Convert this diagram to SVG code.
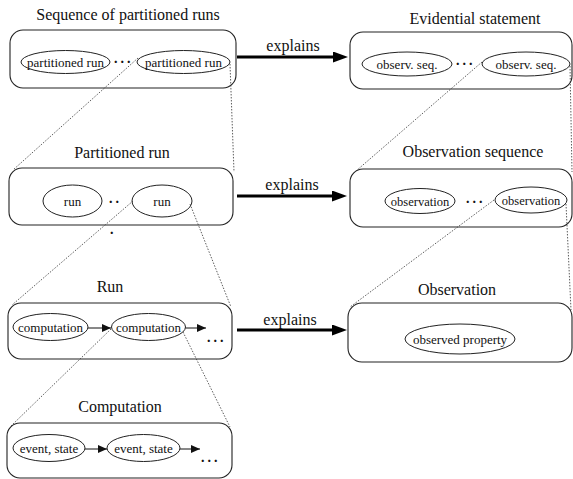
<svg xmlns="http://www.w3.org/2000/svg" width="573" height="479" viewBox="0 0 573 479" font-family="'Liberation Serif', 'DejaVu Serif', 'Times New Roman', serif">
<defs>
<style>
text{font-family:'Liberation Serif','DejaVu Serif','Times New Roman',serif;fill:#111}
.t{font-size:16px;text-anchor:middle}
.l{font-size:13px;text-anchor:middle}
.d{font-size:14px;font-weight:bold;letter-spacing:3px}
.box{fill:#fff;stroke:#222;stroke-width:1.1}
.el{fill:#fff;stroke:#222;stroke-width:1}
.dot{fill:none;stroke:#333;stroke-width:0.8;stroke-dasharray:1.5 1.5}
.big{fill:none;stroke:#000;stroke-width:3}
.sm{fill:none;stroke:#111;stroke-width:1}
</style>
<marker id="ab" markerUnits="userSpaceOnUse" markerWidth="15" markerHeight="11" refX="3" refY="5.5" orient="auto"><path d="M0,0 L15,5.5 L0,11 z" fill="#000"/></marker>
<marker id="as" markerUnits="userSpaceOnUse" markerWidth="9" markerHeight="8" refX="9" refY="4" orient="auto"><path d="M0,0 L9,4 L0,8 z" fill="#111"/></marker>
</defs>
<rect width="573" height="479" fill="#fff"/>

<g id="seq-partitioned-runs">
<text class="t" x="128" y="20">Sequence of partitioned runs</text>
<rect class="box" x="10" y="30" width="226" height="58" rx="13"/>
<ellipse class="el" cx="65.5" cy="62" rx="44.5" ry="11.5"/>
<text class="l" x="65.5" y="66.5">partitioned run</text>
<text class="d" x="114" y="63">...</text>
<ellipse class="el" cx="183.5" cy="62" rx="46.5" ry="11.5"/>
<text class="l" x="183.5" y="66.5">partitioned run</text>
</g>

<g id="evidential-statement">
<text class="t" x="475" y="24">Evidential statement</text>
<rect class="box" x="350" y="32" width="222" height="57" rx="13"/>
<ellipse class="el" cx="407" cy="64" rx="45" ry="12"/>
<text class="l" x="407" y="68.5">observ. seq.</text>
<text class="d" x="456" y="65">...</text>
<ellipse class="el" cx="526" cy="64" rx="44" ry="12"/>
<text class="l" x="526" y="68.5">observ. seq.</text>
</g>

<g id="partitioned-run">
<text class="t" x="122" y="158">Partitioned run</text>
<rect class="box" x="9" y="168" width="224" height="57" rx="13"/>
<ellipse class="el" cx="72.5" cy="201" rx="29.5" ry="16"/>
<text class="l" x="72.5" y="205.5">run</text>
<text class="d" x="109" y="203">..</text>
<ellipse class="el" cx="162" cy="201" rx="30" ry="16"/>
<text class="l" x="162" y="205.5">run</text>
<text class="d" x="110" y="234">.</text>
</g>

<g id="observation-sequence">
<text class="t" x="473" y="157">Observation sequence</text>
<rect class="box" x="350" y="169" width="222" height="58" rx="13"/>
<ellipse class="el" cx="420" cy="201" rx="35" ry="12.5"/>
<text class="l" x="420" y="205.5" style="font-size:12.5px">observation</text>
<text class="d" x="466" y="203">...</text>
<ellipse class="el" cx="531" cy="200" rx="36" ry="13"/>
<text class="l" x="531" y="204.5" style="font-size:12.5px">observation</text>
</g>

<g id="run">
<text class="t" x="110" y="292">Run</text>
<rect class="box" x="8" y="303" width="224" height="56" rx="13"/>
<ellipse class="el" cx="50.5" cy="327" rx="37.5" ry="13.5"/>
<text class="l" x="50.5" y="331.5">computation</text>
<ellipse class="el" cx="148.5" cy="327" rx="37" ry="13.5"/>
<text class="l" x="148.5" y="331.5">computation</text>
<text class="d" x="207" y="342">...</text>
</g>

<g id="observation">
<text class="t" x="457" y="295">Observation</text>
<rect class="box" x="348" y="303" width="224" height="59" rx="14"/>
<ellipse class="el" cx="460" cy="339" rx="55" ry="15"/>
<text class="l" x="460" y="343.5">observed property</text>
</g>

<g id="computation">
<text class="t" x="120" y="412">Computation</text>
<rect class="box" x="7" y="423" width="225" height="55" rx="13"/>
<ellipse class="el" cx="49" cy="448" rx="36" ry="13.5"/>
<text class="l" x="49" y="452.5">event, state</text>
<ellipse class="el" cx="143.5" cy="448" rx="36.5" ry="13.5"/>
<text class="l" x="143.5" y="452.5">event, state</text>
<text class="d" x="201" y="462">...</text>
</g>

<g id="connectors">
<line class="big" x1="237" y1="57" x2="336" y2="57" marker-end="url(#ab)"/>
<text class="t" x="293" y="51">explains</text>
<line class="big" x1="237" y1="196" x2="335" y2="196" marker-end="url(#ab)"/>
<text class="t" x="292" y="190">explains</text>
<line class="big" x1="237" y1="330" x2="335" y2="330" marker-end="url(#ab)"/>
<text class="t" x="290" y="325">explains</text>

<line class="sm" x1="88" y1="328" x2="111" y2="328" marker-end="url(#as)"/>
<line class="sm" x1="185.5" y1="328" x2="206" y2="328" marker-end="url(#as)"/>
<line class="sm" x1="85" y1="449" x2="107" y2="449" marker-end="url(#as)"/>
<line class="sm" x1="180" y1="449" x2="200" y2="449" marker-end="url(#as)"/>

<line class="dot" x1="138" y1="58" x2="13" y2="170"/>
<line class="dot" x1="230" y1="64" x2="234" y2="172"/>
<line class="dot" x1="482" y1="62" x2="356" y2="171"/>
<line class="dot" x1="570" y1="66" x2="572" y2="172"/>
<line class="dot" x1="133" y1="201" x2="12" y2="305"/>
<line class="dot" x1="190" y1="204" x2="231" y2="307"/>
<line class="dot" x1="494" y1="200" x2="350" y2="307"/>
<line class="dot" x1="566" y1="204" x2="571" y2="310"/>
<line class="dot" x1="111" y1="329" x2="11" y2="426"/>
<line class="dot" x1="183" y1="332" x2="230" y2="427"/>
</g>
</svg>
